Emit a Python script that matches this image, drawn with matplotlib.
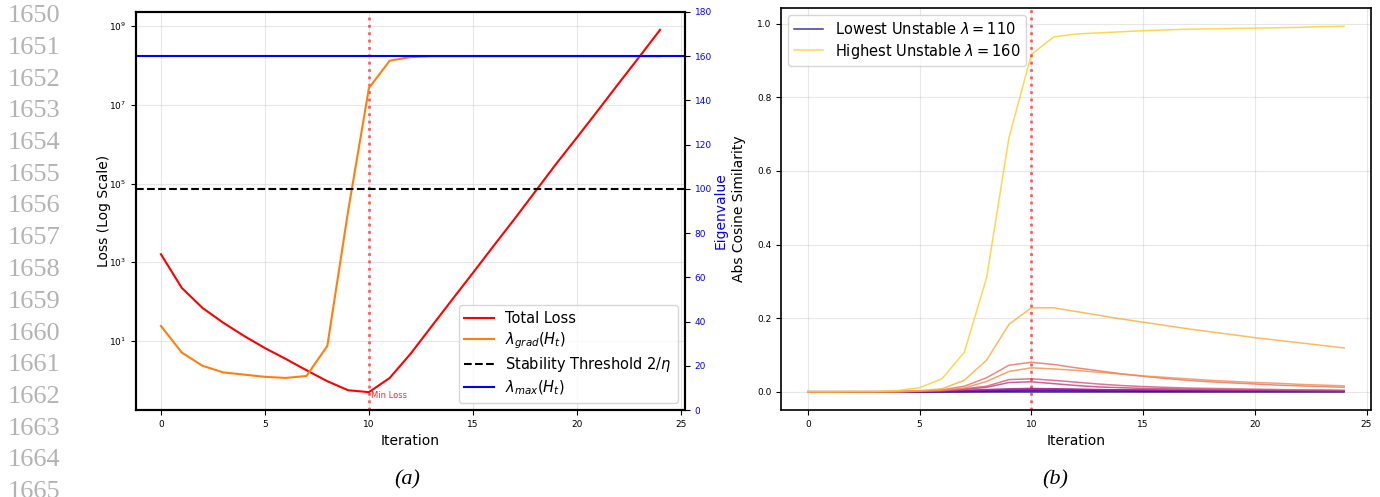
import numpy as np
import matplotlib
matplotlib.use('Agg')
import matplotlib.pyplot as plt
from matplotlib.ticker import NullLocator

# ---------------------------------------------------------------- data
iters = list(range(25))

total_loss = [1600, 224, 69, 29, 13.4, 6.6, 3.5, 1.8, 0.95, 0.56, 0.50, 1.15, 4.7,
              23, 112, 537, 2630, 12600, 63000, 3.16e5, 1.48e6, 7.1e6, 3.47e7, 1.66e8, 8.1e8]
lam_grad = [38, 26, 20, 17, 16, 15, 14.5, 15.4, 29, 90, 145.6, 158, 159.6,
            160, 160, 160, 160, 160, 160, 160, 160, 160, 160, 160, 160]
lam_max = 160
threshold = 100
min_iter = 10

eig_vals = [110, 115, 120, 125, 130, 135, 140, 145, 150, 155, 160]
cos_sim = [
    [0.0] * 25,
    [0, 0, 0, 0, 0, 0, 0, 0.0005, 0.001, 0.0015, 0.002, 0.002, 0.002, 0.0015, 0.0015, 0.001, 0.001, 0.001,
     0.001, 0.001, 0.001, 0.001, 0.001, 0.001, 0.001],
    [0, 0, 0, 0, 0, 0, 0.0005, 0.001, 0.002, 0.003, 0.004, 0.004, 0.0035, 0.003, 0.003, 0.0025, 0.0025, 0.002,
     0.002, 0.002, 0.002, 0.0015, 0.0015, 0.0015, 0.0015],
    [0, 0, 0, 0, 0, 0.0005, 0.001, 0.002, 0.004, 0.006, 0.007, 0.007, 0.006, 0.005, 0.005, 0.004, 0.004, 0.003,
     0.003, 0.003, 0.0025, 0.0025, 0.002, 0.002, 0.002],
    [0, 0, 0, 0, 0, 0.0005, 0.002, 0.004, 0.006, 0.008, 0.009, 0.008, 0.007, 0.006, 0.005, 0.005, 0.004, 0.004,
     0.003, 0.003, 0.003, 0.003, 0.0025, 0.0025, 0.002],
    [0, 0, 0, 0, 0, 0.001, 0.003, 0.006, 0.012, 0.025, 0.027, 0.022, 0.017, 0.013, 0.011, 0.009, 0.008, 0.007,
     0.006, 0.005, 0.005, 0.004, 0.004, 0.003, 0.003],
    [0, 0, 0, 0, 0, 0.001, 0.003, 0.008, 0.015, 0.033, 0.035, 0.031, 0.026, 0.021, 0.017, 0.014, 0.012, 0.010,
     0.009, 0.008, 0.007, 0.006, 0.005, 0.005, 0.004],
    [0, 0, 0, 0, 0, 0.002, 0.005, 0.015, 0.038, 0.072, 0.080, 0.074, 0.065, 0.057, 0.049, 0.042, 0.036, 0.031,
     0.027, 0.024, 0.021, 0.018, 0.016, 0.014, 0.012],
    [0, 0, 0, 0, 0, 0.002, 0.004, 0.010, 0.028, 0.055, 0.065, 0.062, 0.058, 0.053, 0.048, 0.043, 0.039, 0.035,
     0.031, 0.028, 0.025, 0.023, 0.020, 0.018, 0.016],
    [0, 0, 0, 0, 0.001, 0.003, 0.008, 0.031, 0.086, 0.183, 0.228, 0.228, 0.218, 0.208, 0.198, 0.189, 0.180,
     0.171, 0.163, 0.155, 0.147, 0.140, 0.133, 0.126, 0.119],
    [0, 0, 0.001, 0.001, 0.003, 0.011, 0.035, 0.107, 0.31, 0.69, 0.916, 0.964, 0.972, 0.975, 0.978, 0.981,
     0.983, 0.985, 0.986, 0.987, 0.988, 0.989, 0.990, 0.992, 0.993],
]

line_numbers = [str(n) for n in range(1650, 1666)]

# ---------------------------------------------------------------- figure
fig = plt.figure(figsize=(13.8, 4.97), dpi=100)
W, H = 1380.0, 497.0

ax1 = fig.add_axes([136 / W, 1 - 410 / H, (685 - 136) / W, (410 - 12) / H])
ax2 = ax1.twinx()

l1, = ax1.plot(iters, total_loss, color='red', lw=1.5, label='Total Loss')
ax1.set_yscale('log')
ax1.set_ylim(0.176, 2.3e9)
ax1.set_yticks([1e1, 1e3, 1e5, 1e7, 1e9])
ax1.yaxis.set_minor_locator(NullLocator())
ax1.set_xticks([0, 5, 10, 15, 20, 25])
ax1.tick_params(labelsize=6.5)
ax1.grid(True, alpha=0.3)
ax1.set_xlabel('Iteration', fontsize=10)
ax1.set_ylabel('Loss (Log Scale)', fontsize=10, labelpad=-1)
ax1.axvline(min_iter, color='red', ls=':', lw=2, alpha=0.6)
ax1.text(min_iter + 0.12, 0.40, 'Min Loss', color='red', fontsize=6, va='center', alpha=0.85)

l2, = ax2.plot(iters, lam_grad, color='#ff7f0e', lw=1.5, label=r'$\lambda_{grad}(H_t)$')
l3 = ax2.axhline(threshold, color='black', ls='--', lw=1.5, label=r'Stability Threshold $2/\eta$')
l4 = ax2.axhline(lam_max, color='blue', lw=1.5, label=r'$\lambda_{max}(H_t)$')
ax2.set_ylim(0, 180)
ax2.set_yticks(range(0, 181, 20))
ax2.tick_params(axis='y', labelcolor='blue', labelsize=6.5)
ax2.set_ylabel('Eigenvalue', color='blue', fontsize=10, labelpad=1)
ax2.legend(handles=[l1, l2, l3, l4], loc='lower right', fontsize=10.5, labelspacing=0.3)

for a in (ax1, ax2):
    for s in a.spines.values():
        s.set_linewidth(1.5)

# right panel
ax3 = fig.add_axes([781 / W, 1 - 410 / H, (1371 - 781) / W, (410 - 8) / H])
colors = plt.cm.plasma(np.linspace(0, 0.9, len(eig_vals)))
for k, (ev, vals) in enumerate(zip(eig_vals, cos_sim)):
    lab = None
    if k == 0:
        lab = r'Lowest Unstable $\lambda=%d$' % ev
    elif k == len(eig_vals) - 1:
        lab = r'Highest Unstable $\lambda=%d$' % ev
    ax3.plot(iters, vals, color=colors[k], lw=1.1, alpha=0.8, label=lab)
ax3.axvline(min_iter, color='red', ls=':', lw=2, alpha=0.6)
ax3.set_xticks([0, 5, 10, 15, 20, 25])
ax3.set_yticks([0.0, 0.2, 0.4, 0.6, 0.8, 1.0])
ax3.tick_params(labelsize=6.5)
ax3.grid(True, alpha=0.3)
ax3.set_xlabel('Iteration', fontsize=10)
ax3.set_ylabel('Abs Cosine Similarity', fontsize=10, labelpad=8)
ax3.legend(loc='upper left', fontsize=10.5, labelspacing=0.3)
for s in ax3.spines.values():
    s.set_linewidth(1.2)

# paper line numbers and captions
for i, t in enumerate(line_numbers):
    fig.text(60 / W, 1 - (16 + i * 31.75) / H, t, ha='right', va='center',
             family='Liberation Serif', fontsize=19, color='#b3b3b3')
fig.text(407 / W, 1 - 480 / H, '(a)', ha='center', va='center',
         family='Liberation Serif', style='italic', fontsize=16)
fig.text(1055 / W, 1 - 480 / H, '(b)', ha='center', va='center',
         family='Liberation Serif', style='italic', fontsize=16)

fig.savefig('out.png', dpi=100)
